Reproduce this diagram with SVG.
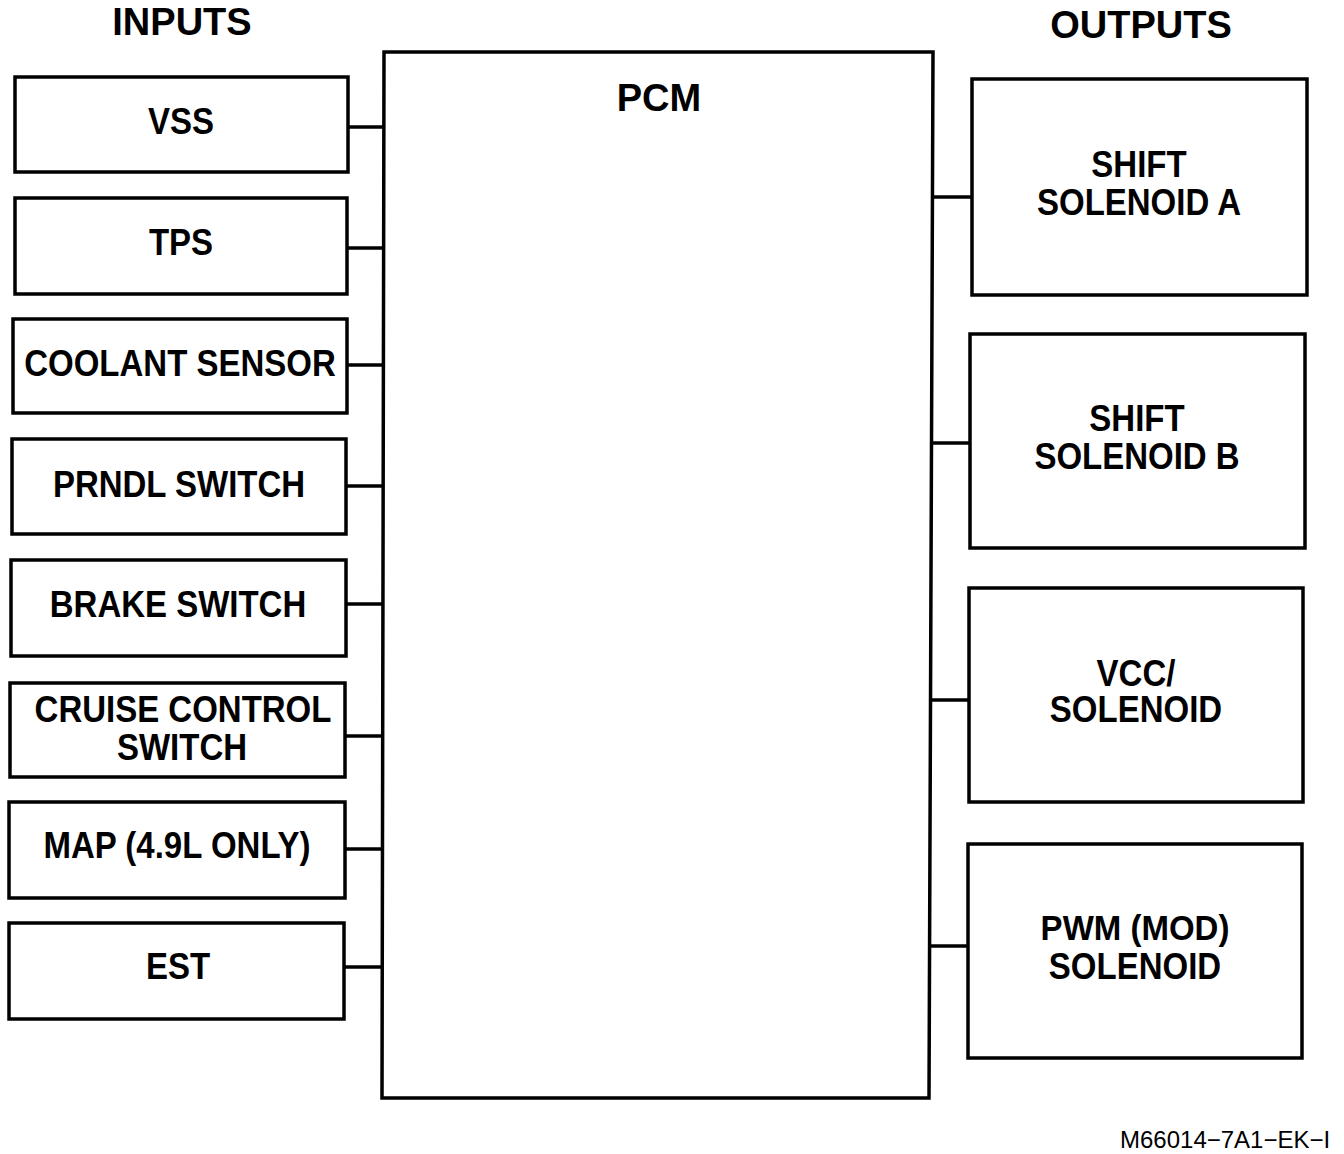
<svg xmlns="http://www.w3.org/2000/svg" width="1344" height="1154" viewBox="0 0 1344 1154">
<style>
.box{fill:#fff;stroke:#000;stroke-width:3.5}
.ln{stroke:#000;stroke-width:3.5;fill:none}
.t{font-family:"Liberation Sans",Arial,sans-serif;font-weight:bold;font-size:33px;text-anchor:middle;fill:#000}
.h{font-family:"Liberation Sans",Arial,sans-serif;font-weight:bold;font-size:38px;text-anchor:middle;fill:#000}
.f{font-family:"Liberation Sans",Arial,sans-serif;font-size:24px;fill:#000}
</style>
<rect width="1344" height="1154" fill="#fff"/>
<text class="h" x="182" y="35">INPUTS</text>
<text class="h" x="1141" y="38">OUTPUTS</text>
<g id="connectors">
<line class="ln" x1="348" y1="127" x2="384" y2="127"/>
<line class="ln" x1="347" y1="248" x2="384" y2="248"/>
<line class="ln" x1="347" y1="365" x2="384" y2="365"/>
<line class="ln" x1="346" y1="486" x2="383" y2="486"/>
<line class="ln" x1="346" y1="604" x2="383" y2="604"/>
<line class="ln" x1="345" y1="736" x2="383" y2="736"/>
<line class="ln" x1="345" y1="849" x2="383" y2="849"/>
<line class="ln" x1="344" y1="967" x2="382" y2="967"/>
<line class="ln" x1="932" y1="197" x2="972" y2="197"/>
<line class="ln" x1="931" y1="443" x2="970" y2="443"/>
<line class="ln" x1="930" y1="700" x2="969" y2="700"/>
<line class="ln" x1="929" y1="946" x2="968" y2="946"/>
</g>
<g id="pcm">
<path class="box" d="M384,52 L933,52 L929,1098 L382,1098 Z"/>
<text class="h" x="659" y="111">PCM</text>
</g>
<g id="vss"><rect class="box" x="15" y="77" width="333" height="95"/><text class="t" transform="translate(181,134) scale(1,1.1)">VSS</text></g>
<g id="tps"><rect class="box" x="15" y="198" width="332" height="96"/><text class="t" transform="translate(181,255) scale(1,1.1)">TPS</text></g>
<g id="coolant"><rect class="box" x="13" y="319" width="334" height="94"/><text class="t" transform="translate(180,376) scale(1,1.1)">COOLANT SENSOR</text></g>
<g id="prndl"><rect class="box" x="12" y="439" width="334" height="95"/><text class="t" transform="translate(179,497) scale(1,1.1)">PRNDL SWITCH</text></g>
<g id="brake"><rect class="box" x="11" y="560" width="335" height="96"/><text class="t" transform="translate(178,617) scale(1,1.1)">BRAKE SWITCH</text></g>
<g id="cruise"><rect class="box" x="10" y="683" width="335" height="94"/><text class="t" transform="translate(183,722) scale(1,1.1)">CRUISE CONTROL</text><text class="t" transform="translate(182,760) scale(1,1.1)">SWITCH</text></g>
<g id="map"><rect class="box" x="9" y="802" width="336" height="96"/><text class="t" transform="translate(177,858) scale(1,1.1)">MAP (4.9L ONLY)</text></g>
<g id="est"><rect class="box" x="9" y="923" width="335" height="96"/><text class="t" transform="translate(178,979) scale(1,1.1)">EST</text></g>
<g id="shiftA"><rect class="box" x="972" y="79" width="335" height="216"/><text class="t" transform="translate(1139,177) scale(1,1.1)">SHIFT</text><text class="t" transform="translate(1139,215) scale(1,1.1)">SOLENOID A</text></g>
<g id="shiftB"><rect class="box" x="970" y="334" width="335" height="214"/><text class="t" transform="translate(1137,431) scale(1,1.1)">SHIFT</text><text class="t" transform="translate(1137,469) scale(1,1.1)">SOLENOID B</text></g>
<g id="vcc"><rect class="box" x="969" y="588" width="334" height="214"/><text class="t" transform="translate(1136,686) scale(1,1.1)">VCC/</text><text class="t" transform="translate(1136,722) scale(1,1.1)">SOLENOID</text></g>
<g id="pwm"><rect class="box" x="968" y="844" width="334" height="214"/><text class="t" transform="translate(1135,940) scale(1,1.05)">PWM (MOD)</text><text class="t" transform="translate(1135,979) scale(1,1.1)">SOLENOID</text></g>
<text class="f" x="1120" y="1148">M66014−7A1−EK−I</text>
</svg>
